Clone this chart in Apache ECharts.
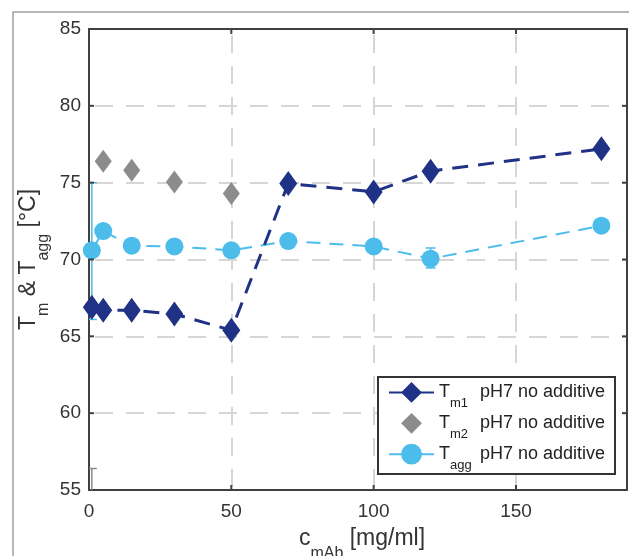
<!DOCTYPE html>
<html><head><meta charset="utf-8">
<script src="https://cdn.jsdelivr.net/npm/echarts@6/dist/echarts.min.js"></script>
<style>html,body{margin:0;padding:0;background:#fff}#c{width:629px;height:556px}</style>
</head><body><div id="c"></div>
<script>
// ---- data ----
const concentrations = [1, 5, 15, 30, 50, 70, 100, 120, 180];
const tm1Values = [66.9, 66.7, 66.7, 66.45, 65.4, 74.95, 74.4, 75.75, 77.2];
const tm2Conc = [5, 15, 30, 50];
const tm2Values = [76.4, 75.8, 75.05, 74.3];
const taggValues = [70.6, 71.85, 70.9, 70.85, 70.6, 71.2, 70.85, 70.05, 72.2];
// error bars: [x, low, high]
const taggErrors = [[1, 66.1, 75.0], [120, 69.45, 70.75]];
const tm2Errors = [[1, 50, 56.4]];
const xTicks = [0, 50, 100, 150];
const yTicks = [55, 60, 65, 70, 75, 80, 85];
const seriesNames = ['Tm1', 'Tm2', 'Tagg'];
const legendSubs = ['m1', 'm2', 'agg'];
const legendSuffix = 'pH7 no additive';

const NAVY = '#1f3286', GRAY = '#8c8c8c', LBLUE = '#4cbceb';
const FONT = '"Liberation Sans", Arial, Helvetica, sans-serif';
const AXC = '#404040';
const xMin = 0, xMax = 189, yMin = 55, yMax = 85;

const zip = (xs, ys) => xs.map((x, i) => [x, ys[i]]);

function errRender(color) {
  return function (params, api) {
    const x = api.value(0), lo = api.value(1), hi = api.value(2);
    const pLo = api.coord([x, lo]), pHi = api.coord([x, hi]);
    const w = 5;
    const style = { stroke: color, lineWidth: 1.5, fill: null };
    return { type: 'group', children: [
      { type: 'line', shape: { x1: pLo[0], y1: pLo[1], x2: pHi[0], y2: pHi[1] }, style },
      { type: 'line', shape: { x1: pLo[0] - w, y1: pLo[1], x2: pLo[0] + w, y2: pLo[1] }, style },
      { type: 'line', shape: { x1: pHi[0] - w, y1: pHi[1], x2: pHi[0] + w, y2: pHi[1] }, style }
    ]};
  };
}
const TL = 5;
const tickStyle = { stroke: AXC, lineWidth: 2, fill: null };
function xTickRender(params, api) {
  const v = api.value(0);
  const b = api.coord([v, yMin]), t = api.coord([v, yMax]);
  return { type: 'group', children: [
    { type: 'line', shape: { x1: b[0], y1: b[1], x2: b[0], y2: b[1] - TL }, style: tickStyle },
    { type: 'line', shape: { x1: t[0], y1: t[1], x2: t[0], y2: t[1] + TL }, style: tickStyle }
  ]};
}
function yTickRender(params, api) {
  const v = api.value(1);
  const l = api.coord([xMin, v]), r = api.coord([xMax, v]);
  return { type: 'group', children: [
    { type: 'line', shape: { x1: l[0], y1: l[1], x2: l[0] + TL, y2: l[1] }, style: tickStyle },
    { type: 'line', shape: { x1: r[0], y1: r[1], x2: r[0] - TL, y2: r[1] }, style: tickStyle }
  ]};
}

const mkSplit = () => ({ show: true, lineStyle: { color: '#d6d6d6', width: 2, type: [18, 13], dashOffset: -6 } });
const mkLine = () => ({ show: true, onZero: false, lineStyle: { color: AXC, width: 2 } });
const noTick = () => ({ show: false });

const titleRich = {
  t: { fontSize: 23, lineHeight: 46, fontFamily: FONT, fill: '#333' },
  s: { fontSize: 16, lineHeight: 46, verticalAlign: 'bottom', fontFamily: FONT, fill: '#333' }
};

const chart = echarts.init(document.getElementById('c'), null, { renderer: 'canvas' });
chart.setOption({
  animation: false,
  backgroundColor: '#fff',
  grid: { left: 89, right: 2, top: 29, bottom: 66 },
  xAxis: [
    { type: 'value', position: 'bottom', min: xMin, max: xMax, interval: 50,
      axisLine: mkLine(), axisTick: noTick(), splitLine: mkSplit(),
      axisLabel: { fontSize: 19, color: '#333', fontFamily: FONT, margin: 12, showMaxLabel: false,
        formatter: v => xTicks.includes(v) ? String(v) : '' } },
    { type: 'value', position: 'top', min: xMin, max: xMax, interval: 50,
      axisLine: mkLine(), axisTick: noTick(), splitLine: { show: false }, axisLabel: { show: false } }
  ],
  yAxis: [
    { type: 'value', position: 'left', min: yMin, max: yMax, interval: 5,
      axisLine: mkLine(), axisTick: noTick(), splitLine: mkSplit(),
      axisLabel: { fontSize: 19, color: '#333', fontFamily: FONT, margin: 8,
        formatter: v => yTicks.includes(v) ? String(v) : '' } },
    { type: 'value', position: 'right', min: yMin, max: yMax, interval: 5,
      axisLine: mkLine(), axisTick: noTick(), splitLine: { show: false }, axisLabel: { show: false } }
  ],
  legend: {
    orient: 'vertical', left: 388, top: 382, padding: 0, itemGap: 2.5, z: 100,
    itemWidth: 45, itemHeight: 26, selectedMode: false,
    data: seriesNames,
    lineStyle: { type: 'solid' },
    formatter: name => {
      const i = seriesNames.indexOf(name);
      return '{t|T}{s|' + legendSubs[i] + '}{g|' + legendSuffix + '}';
    },
    textStyle: {
      color: '#222', fontFamily: FONT,
      rich: {
        t: { fontSize: 18, lineHeight: 36, fontFamily: FONT, color: '#222' },
        s: { fontSize: 13, lineHeight: 36, verticalAlign: 'bottom', width: 30, fontFamily: FONT, color: '#222' },
        g: { fontSize: 18, lineHeight: 36, fontFamily: FONT, color: '#222' }
      }
    }
  },
  graphic: [
    { type: 'rect', x: 0, y: 0, z: -10, silent: true,
      shape: { x: 13, y: 12, width: 700, height: 700 }, style: { fill: 'none', stroke: '#a0a0a0', lineWidth: 1.5 } },
    { type: 'rect', x: 0, y: 0, z: 50, silent: true,
      shape: { x: 378, y: 377, width: 237, height: 97 }, style: { fill: '#fff', stroke: '#333', lineWidth: 2 } },
    { type: 'text', x: 29, y: 259.5, rotation: Math.PI / 2, silent: true,
      style: { text: '{t|T}{s|m}{t| & T}{s|agg}{t| [°C]}', align: 'center', verticalAlign: 'middle', rich: titleRich } },
    { type: 'text', x: 362, y: 516, silent: true,
      style: { text: '{t|c}{s|mAb}{t| [mg/ml]}', align: 'center', verticalAlign: 'top', rich: titleRich } }
  ],
  series: [
    { name: 'xTicks', type: 'custom', clip: false, z: 5, silent: true, renderItem: xTickRender,
      data: xTicks.filter(v => v > xMin).map(v => [v, yMin]) },
    { name: 'yTicks', type: 'custom', clip: false, z: 5, silent: true, renderItem: yTickRender,
      data: yTicks.filter(v => v > yMin && v < yMax).map(v => [xMin, v]) },
    { name: 'TaggErr', type: 'custom', clip: true, z: 2, renderItem: errRender(LBLUE), data: taggErrors },
    { name: 'Tm2Err', type: 'custom', clip: true, z: 2, renderItem: errRender(GRAY), data: tm2Errors },
    { name: 'Tagg', type: 'line', z: 3, data: zip(concentrations, taggValues),
      symbol: 'circle', symbolSize: 18, color: LBLUE, itemStyle: { color: LBLUE },
      lineStyle: { color: LBLUE, width: 2, type: [14, 9] } },
    { name: 'Tm2', type: 'line', z: 3, data: zip(tm2Conc, tm2Values),
      symbol: 'diamond', symbolSize: [17, 23], color: GRAY, itemStyle: { color: GRAY },
      lineStyle: { color: GRAY, width: 2, opacity: 0 } },
    { name: 'Tm1', type: 'line', z: 4, data: zip(concentrations, tm1Values),
      symbol: 'diamond', symbolSize: [18, 25], color: NAVY, itemStyle: { color: NAVY },
      lineStyle: { color: NAVY, width: 3, type: [16, 10] } }
  ]
});
</script></body></html>
